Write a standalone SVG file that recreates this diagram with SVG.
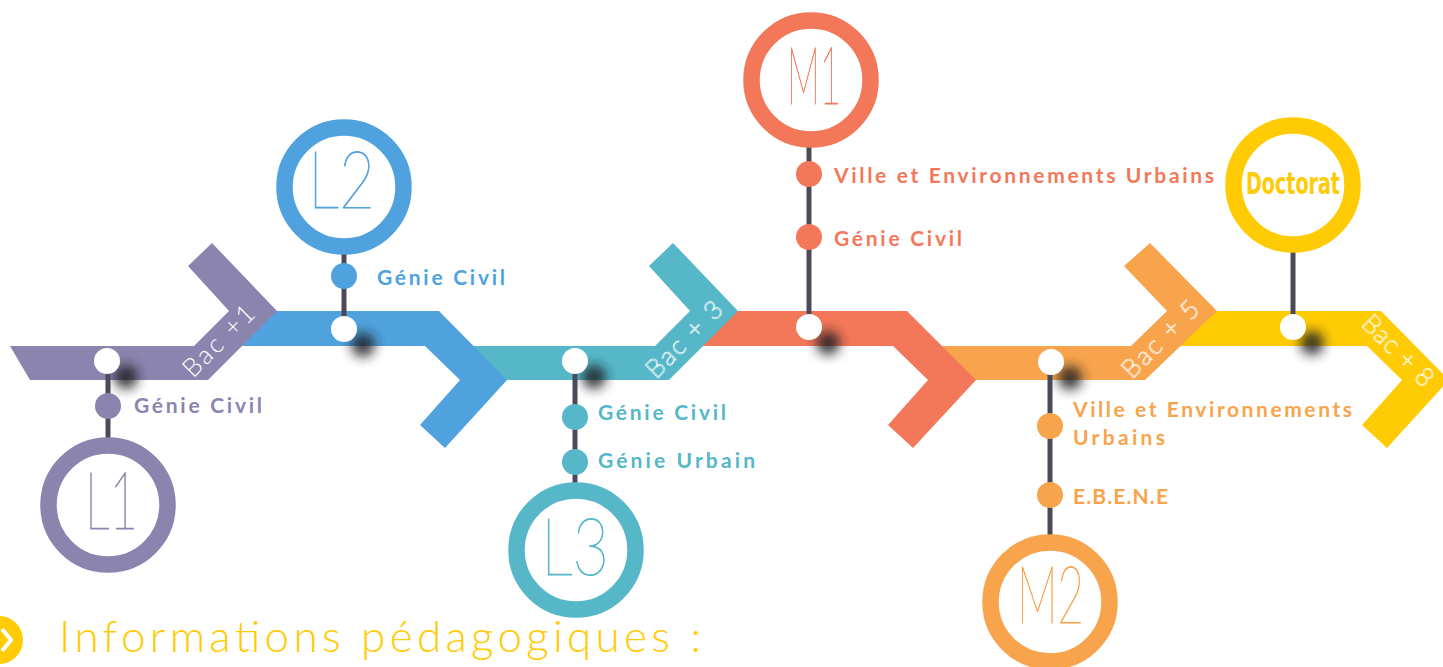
<svg xmlns="http://www.w3.org/2000/svg" width="1443" height="667" viewBox="0 0 1443 667">
  <defs>
    <filter id="blur" x="-100%" y="-100%" width="300%" height="300%">
      <feGaussianBlur stdDeviation="6"/>
    </filter>
    <style>
      .stem{stroke:#4b4a5a;stroke-width:5;fill:none}
      .ring{fill:none;stroke-width:16.5}
      .knot{fill:#ffffff}
      .shadow{fill:#1e1e24;opacity:0.85;filter:url(#blur)}
      .lbl{font-family:Lato,"Noto Sans",sans-serif;font-weight:700;font-size:21px}
      .big{font-family:Lato,"Noto Sans",sans-serif;font-weight:100;font-size:80px;stroke-width:0.9}
      .bac{font-family:Lato,"Noto Sans",sans-serif;font-weight:300;font-size:26px}
      .bacO{font-family:Lato,"Noto Sans",sans-serif;font-weight:300;font-size:26px;fill:none;stroke:#ffffff;stroke-width:0.6}
      .purple{fill:#8b84ae}.blue{fill:#4fa2dd}.teal{fill:#55b7c8}.red{fill:#f37759}.orange{fill:#f7a44c}.yellow{fill:#ffcb05}
    </style>
  </defs>
  <rect width="1443" height="667" fill="#ffffff"/>

  <g id="track">
    <polygon class="yellow" points="1191,311 1381,311 1449,380 1387,448 1362,425 1402,380 1367,346 1156,346"/>
    <polygon class="orange" points="917,346 1131,346 1167,311 1124,266 1150,243 1217,311 1145,380 951,380"/>
    <polygon class="red" points="714,311 907,311 976,380 913,448 888,425 928,380 893,346 679,346"/>
    <polygon class="teal" points="449,346 655,346 690,311 649,266 673,243 738,311 669,380 483,380"/>
    <polygon class="blue" points="253,311 439,311 507,380 445,448 420,425 460,380 425,346 218,346"/>
    <polygon class="purple" points="10,346 194,346 229,311 188,266 212,243 277,311 208,380 30,380"/>
    <text class="bac" fill="#ffffff" transform="translate(193,379) rotate(-45)" textLength="90">Bac +1</text>
    <text class="bacO" transform="translate(656,380) rotate(-45)" textLength="97">Bac + 3</text>
    <text class="bacO" transform="translate(1132,380) rotate(-45)" textLength="98">Bac + 5</text>
    <text class="bacO" transform="translate(1360,325) rotate(45)" textLength="90">Bac + 8</text>
  </g>

  <g id="shadows">
    <circle class="shadow" cx="126" cy="377" r="12"/>
    <circle class="shadow" cx="363" cy="345" r="12"/>
    <circle class="shadow" cx="594" cy="377" r="12"/>
    <circle class="shadow" cx="828" cy="343" r="12"/>
    <circle class="shadow" cx="1070" cy="378" r="12"/>
    <circle class="shadow" cx="1312" cy="343" r="12"/>
  </g>

  <g id="connectors">
    <line class="stem" x1="108" y1="361" x2="108" y2="440"/>
    <line class="stem" x1="344" y1="252" x2="344" y2="329"/>
    <line class="stem" x1="575" y1="361" x2="575" y2="486"/>
    <line class="stem" x1="809" y1="147" x2="809" y2="327"/>
    <line class="stem" x1="1050" y1="362" x2="1050" y2="538"/>
    <line class="stem" x1="1293" y1="250" x2="1293" y2="327"/>
  </g>

  <g id="node-L1">
    <circle class="knot" cx="107" cy="361" r="13"/>
    <circle class="purple" cx="108" cy="406" r="13"/>
    <text class="lbl purple" x="134" y="413" textLength="128">Génie Civil</text>
    <circle class="ring" stroke="#8b84ae" cx="108" cy="505" r="59.5"/>
    <text class="big purple" stroke="#8b84ae" x="85" y="529" textLength="53" lengthAdjust="spacingAndGlyphs">L1</text>
  </g>

  <g id="node-L2">
    <circle class="knot" cx="344" cy="329" r="13"/>
    <circle class="blue" cx="344" cy="276" r="13"/>
    <text class="lbl blue" x="377" y="285" textLength="128">Génie Civil</text>
    <circle class="ring" stroke="#4fa2dd" cx="344" cy="187" r="59.5"/>
    <text class="big blue" stroke="#4fa2dd" x="308" y="208" textLength="67" lengthAdjust="spacingAndGlyphs">L2</text>
  </g>

  <g id="node-L3">
    <circle class="knot" cx="575" cy="361" r="13"/>
    <circle class="teal" cx="575" cy="417" r="13"/>
    <text class="lbl teal" x="598" y="420" textLength="128">Génie Civil</text>
    <circle class="teal" cx="575" cy="462" r="13"/>
    <text class="lbl teal" x="598" y="468" textLength="157">Génie Urbain</text>
    <circle class="ring" stroke="#55b7c8" cx="576" cy="550" r="59.5"/>
    <text class="big teal" stroke="#55b7c8" x="541" y="575" textLength="68" lengthAdjust="spacingAndGlyphs">L3</text>
  </g>

  <g id="node-M1">
    <circle class="knot" cx="809" cy="327" r="13"/>
    <circle class="red" cx="809" cy="174" r="13"/>
    <text class="lbl red" x="834" y="183" textLength="380">Ville et Environnements Urbains</text>
    <circle class="red" cx="809" cy="237" r="13"/>
    <text class="lbl red" x="834" y="246" textLength="128">Génie Civil</text>
    <circle class="ring" stroke="#f37759" cx="811" cy="80" r="59.5"/>
    <text class="big red" stroke="#f37759" x="787" y="104" textLength="54" lengthAdjust="spacingAndGlyphs">M1</text>
  </g>

  <g id="node-M2">
    <circle class="knot" cx="1051" cy="362" r="13"/>
    <circle class="orange" cx="1050" cy="426" r="13"/>
    <text class="lbl orange" x="1073" y="417" textLength="279">Ville et Environnements</text>
    <text class="lbl orange" x="1073" y="445" textLength="92">Urbains</text>
    <circle class="orange" cx="1050" cy="495" r="13"/>
    <text class="lbl orange" x="1073" y="504" textLength="95">E.B.E.N.E</text>
    <circle class="ring" stroke="#f7a44c" cx="1050" cy="602" r="59.5"/>
    <text class="big orange" stroke="#f7a44c" x="1017" y="623" textLength="67" lengthAdjust="spacingAndGlyphs">M2</text>
  </g>

  <g id="node-Doctorat">
    <circle class="knot" cx="1293" cy="327" r="13"/>
    <circle class="ring" stroke="#ffcb05" cx="1293" cy="185" r="59.5"/>
    <text class="yellow" x="1246" y="194" font-family="'DejaVu Sans Condensed','DejaVu Sans',sans-serif" font-weight="700" font-size="30" textLength="94" lengthAdjust="spacingAndGlyphs">Doctorat</text>
  </g>

  <g id="footer">
    <circle class="yellow" cx="-1" cy="640" r="24"/>
    <polyline points="2,629 11,640 2,651" fill="none" stroke="#ffffff" stroke-width="4"/>
    <text class="yellow" x="59" y="652" font-family="Lato,'Noto Sans',sans-serif" font-weight="300" font-size="44" textLength="642">Informations pédagogiques :</text>
  </g>
</svg>
